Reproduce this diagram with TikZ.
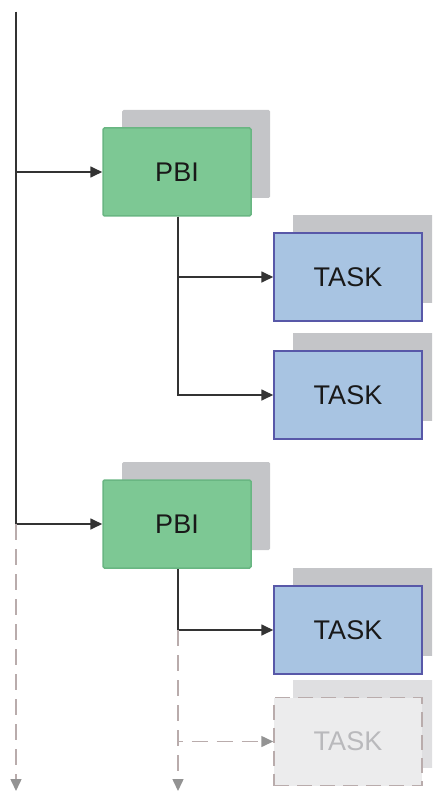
\documentclass[tikz,border=0pt]{standalone}
\usepackage{fontspec}
\setmainfont{Liberation Sans}
\usetikzlibrary{arrows.meta, shadows}

\definecolor{pbigreen}{RGB}{125,200,148}
\definecolor{pbiedge}{RGB}{105,182,130}
\definecolor{taskblue}{RGB}{168,196,226}
\definecolor{taskedge}{RGB}{88,88,168}
\definecolor{shadowgray}{RGB}{196,197,200}
\definecolor{ghostfill}{RGB}{236,236,237}
\definecolor{ghostgray}{RGB}{185,172,172}
\definecolor{ghosttext}{RGB}{185,185,188}

\begin{document}
\begin{tikzpicture}[x=1pt, y=-1pt,
  box/.style={rectangle, minimum width=148pt, minimum height=88pt, inner sep=0pt, line width=1.5pt, font=\fontsize{27}{31}\selectfont, text=black!90},
  pbi/.style={box, rounded corners=1.5pt, fill=pbigreen, draw=pbiedge, copy shadow={shadow xshift=19pt, shadow yshift=18pt, fill=shadowgray, draw=none}},
  task/.style={box, fill=taskblue, draw=taskedge, copy shadow={shadow xshift=19pt, shadow yshift=18pt, fill=shadowgray, draw=none}},
  ghost/.style={box, fill=ghostfill, draw=ghostgray, dash pattern=on 15pt off 8pt, text=ghosttext, copy shadow={shadow xshift=19pt, shadow yshift=18pt, fill=shadowgray!55, draw=none}},
  link/.style={-{Triangle[length=12pt, width=11pt]}, line width=1.7pt, draw=black!80},
  ghostlink/.style={-{Triangle[length=12pt, width=11pt, color=gray!85]}, line width=1.5pt, draw=ghostgray, dash pattern=on 16pt off 9pt}
]
\useasboundingbox (0,0) rectangle (432,794);
\clip (0,0) rectangle (432,794);

% backlog items and their tasks
\node[pbi] (pbi1) at (177,172) {PBI};
\node[task] (task1) at (348,277) {TASK};
\node[task] (task2) at (348,395) {TASK};
\node[pbi] (pbi2) at (177,524) {PBI};
\node[task] (task3) at (348,630) {TASK};
\node[ghost] (task4) at (348,741.5) {TASK};

\coordinate (top) at (16,12);
\coordinate (bot) at (16,791);
\coordinate (stembot) at (178,791);

% backlog spine
\draw[link, -] (top) -- (pbi2.west -| top);
\draw[link] (top) |- (pbi1);
\draw[link] (top) |- (pbi2);
\draw[ghostlink] (pbi2.west -| top) -- (bot);

% task branches
\draw[link] (pbi1.south -| stembot) |- (task1);
\draw[link] (pbi1.south -| stembot) |- (task2);
\draw[link] (pbi2.south -| stembot) |- (task3);
\draw[ghostlink] (task3.west -| stembot) |- (task4);
\draw[ghostlink] (task3.west -| stembot) -- (stembot);
\end{tikzpicture}
\end{document}
